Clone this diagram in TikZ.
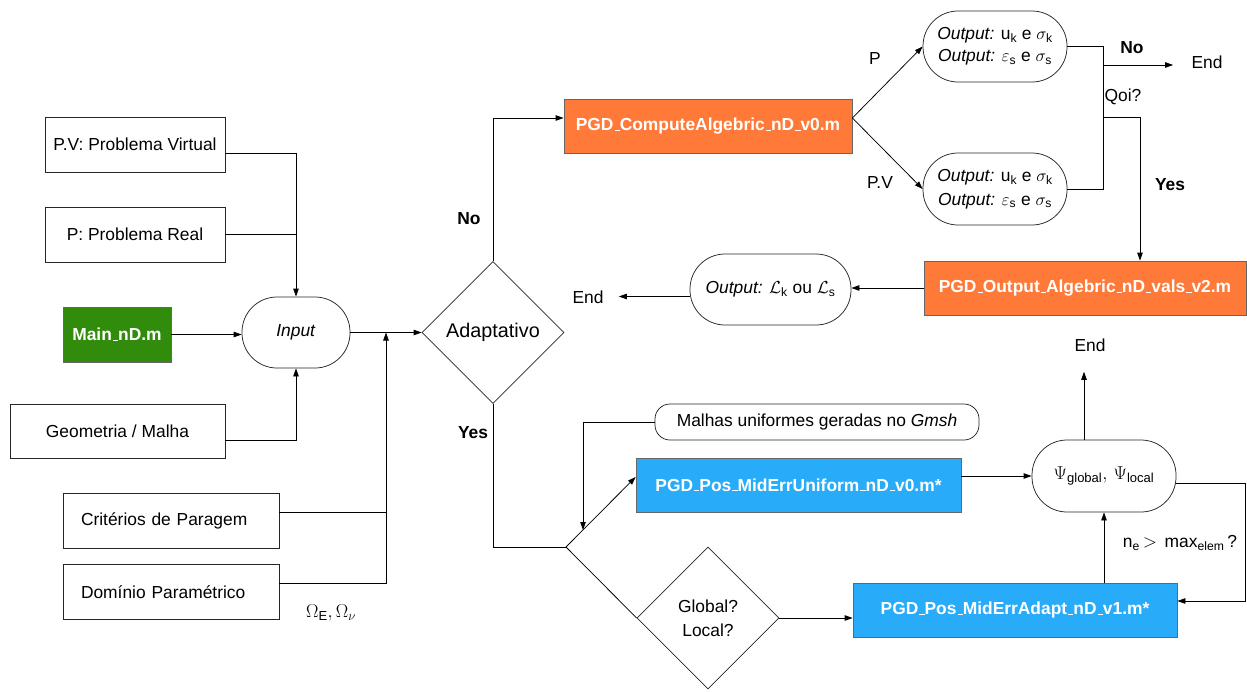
\RequirePackage{fix-cm}
\documentclass[tikz,border=0pt]{standalone}
\usepackage{amsmath}
\usepackage[no-math]{fontspec}
\setmainfont{Liberation Sans}
\usetikzlibrary{shapes.geometric,arrows.meta,calc}

\definecolor{morange}{RGB}{255,122,56}
\definecolor{mblue}{RGB}{40,172,250}
\definecolor{mgreen}{RGB}{48,140,10}
\newcommand{\us}{\leavevmode\kern.06em\vbox{\hrule width .3em height 0.8pt}}
\newcommand{\bigmath}[1]{{\fontsize{18.6}{22}\selectfont$#1$}}

\begin{document}
\begin{tikzpicture}[x=1pt,y=-1pt,
  font=\fontsize{17.4}{21}\selectfont,
  line width=0.75pt,
  arr/.style={-{Triangle[length=8pt,width=5.5pt]}},
  box/.style={draw=black!85,rectangle,inner sep=0pt,minimum height=55pt},
  code/.style={box,draw=black!60,text=white,font=\fontsize{17.4}{21}\selectfont\bfseries},
  term/.style={draw=black!85,rectangle,rounded corners=35pt,inner sep=0pt,minimum height=71pt,align=center},
  decision/.style={draw=black!85,diamond,aspect=1,inner sep=0pt,minimum width=142pt,minimum height=142pt,align=center},
  lbl/.style={inner sep=2pt},
  yn/.style={inner sep=2pt,font=\fontsize{17.4}{21}\selectfont\bfseries}]

\useasboundingbox (0,0) rectangle (1247,691);

% inputs on the left
\node[box,minimum width=180pt] (pv) at (135,144.5) {P.V: Problema Virtual};
\node[box,minimum width=180pt] (pr) at (135,234.5) {P: Problema Real};
\node[code,fill=mgreen,minimum width=108pt] (main) at (117,334.5) {Main\us nD.m};
\node[term,minimum width=108pt] (input) at (296,332.5) {\textit{Input}};
\node[box,minimum width=215pt,minimum height=54pt] (geo) at (117.5,431) {Geometria / Malha};
\node[box,minimum width=216pt,text width=180pt,align=left] (crit) at (171,520.5) {Critérios de Paragem};
\node[box,minimum width=216pt,text width=180pt,align=left] (dom) at (171,592) {Domínio Paramétrico};
\node[lbl] (omg) at (331,613) {\bigmath{\Omega_{\text{E}},\Omega_\nu}};

% main decision
\node[decision] (adapt) at (493,332.5) {\fontsize{19.8}{23}\selectfont Adaptativo};
\node[yn] (lno) at (469,219) {No};
\node[yn] (lyes) at (473,433) {Yes};

% non-adaptive branch
\node[code,fill=morange,minimum width=288pt,minimum height=54pt] (comp) at (708,126) {PGD\us ComputeAlgebric\us nD\us v0.m};
\node[term,minimum width=144pt] (out1) at (995,46.5)
  {\textit{Output:} u$_{\text{k}}$ e $\sigma_{\text{k}}$\\[1pt] \textit{Output:} $\varepsilon_{\text{s}}$ e $\sigma_{\text{s}}$};
\node[term,minimum width=144pt,minimum height=72pt] (out2) at (995,189)
  {\textit{Output:} u$_{\text{k}}$ e $\sigma_{\text{k}}$\\[3pt] \textit{Output:} $\varepsilon_{\text{s}}$ e $\sigma_{\text{s}}$};
\node[lbl] (lp) at (875,59) {P};
\node[lbl] (lpv) at (880,183) {P.V};
\node[yn] (lno2) at (1132,48) {No};
\node[lbl] (lqoi) at (1123,97) {Qoi?};
\node[yn] (lyes2) at (1170,185) {Yes};
\node[lbl] (endt) at (1207,62) {End};
\node[code,fill=morange,minimum width=322pt,minimum height=54pt] (out3) at (1085,288) {PGD\us Output\us Algebric\us nD\us vals\us v2.m};
\node[term,minimum width=161pt] (outl) at (770.5,289.5) {\textit{Output:} $\mathcal{L}_{\text{k}}$ ou $\mathcal{L}_{\text{s}}$};
\node[lbl] (endl) at (588,297) {End};

% adaptive branch
\node[draw=black!85,rounded corners=15pt,minimum width=324pt,minimum height=36pt,inner sep=0pt] (malhas) at (817,422) {Malhas uniformes geradas no \textit{Gmsh}};
\node[code,fill=mblue,minimum width=325pt,minimum height=54pt] (mid) at (798.5,485) {PGD\us Pos\us MidErrUniform\us nD\us v0.m*};
\node[term,minimum width=144pt,minimum height=72pt] (psi) at (1104,476) {\bigmath{\Psi_{\text{global}},\,\Psi_{\text{local}}}};
\node[lbl] (endp) at (1090,345) {End};
\node[decision] (gl) at (708,618) {Global?\\[3pt]Local?};
\node[code,fill=mblue,minimum width=324pt,minimum height=54pt] (adb) at (1015,610) {PGD\us Pos\us MidErrAdapt\us nD\us v1.m*};
\node[lbl] (lne) at (1180,543) {n$_{\text{e}}$\,\bigmath{>}\, max$_{\text{elem}}$\,?};

% connectors: inputs
\draw[arr] ([yshift=-8.5pt]pv.east) -| (input.north);
\draw (pr.east) -- (pr.east -| input.north);
\draw[arr] (main.east) -- (main.east -| input.west);
\draw[arr] ([yshift=-9pt]geo.east) -| (input.south);
\draw[arr] (input.east) -- (adapt.west);
\coordinate (jx) at (386,332.5);
\draw[arr] ([yshift=9pt]dom.east) -| (jx);
\draw ([yshift=8.5pt]crit.east) -- ([yshift=8.5pt]crit.east -| jx);

% connectors: non-adaptive branch
\draw[arr] (adapt.north) |- ([yshift=8pt]comp.west);
\draw[arr] ([yshift=8pt]comp.east) -- (out1.west);
\draw[arr] ([yshift=8pt]comp.east) -- (out2.west);
\coordinate (qx) at (1103,0);
\coordinate (qa) at (1103,65);
\coordinate (qb) at (1103,117);
\draw (out1.east) -- (out1.east -| qx) -- (out2.east -| qx) -- (out2.east);
\draw[arr,shorten >=16pt] (qa) -- (qa -| endt.west);
\draw[arr] (qb) -| ([xshift=55pt]out3.north);
\draw[arr] (out3.west) -- (out3.west -| outl.east);
\draw[arr,shorten >=13pt] ([yshift=-7pt]outl.west) -- ([yshift=-7pt]outl.west -| endl.east);

% connectors: adaptive branch
\coordinate (fk) at (566,547);
\coordinate (mk) at (583,530);
\draw (adapt.south) |- (fk);
\draw (fk) -- (gl.west);
\draw[arr] (fk) -- ([yshift=8pt]mid.west);
\draw[arr] (malhas.west) -| (mk);
\draw[arr] ([yshift=9pt]mid.east) -- (psi.west);
\draw[arr,shorten >=18pt] ([xshift=-20pt]psi.north) -- ([xshift=-20pt]psi.north |- endp.south);
\draw[arr] ([yshift=-7pt]psi.east) -- ++(69,0) |- ([yshift=9pt]adb.east);
\draw[arr] (adb.north -| psi.south) -- (psi.south);
\draw[arr] (gl.east) -- (gl.east -| adb.west);
\end{tikzpicture}
\end{document}
